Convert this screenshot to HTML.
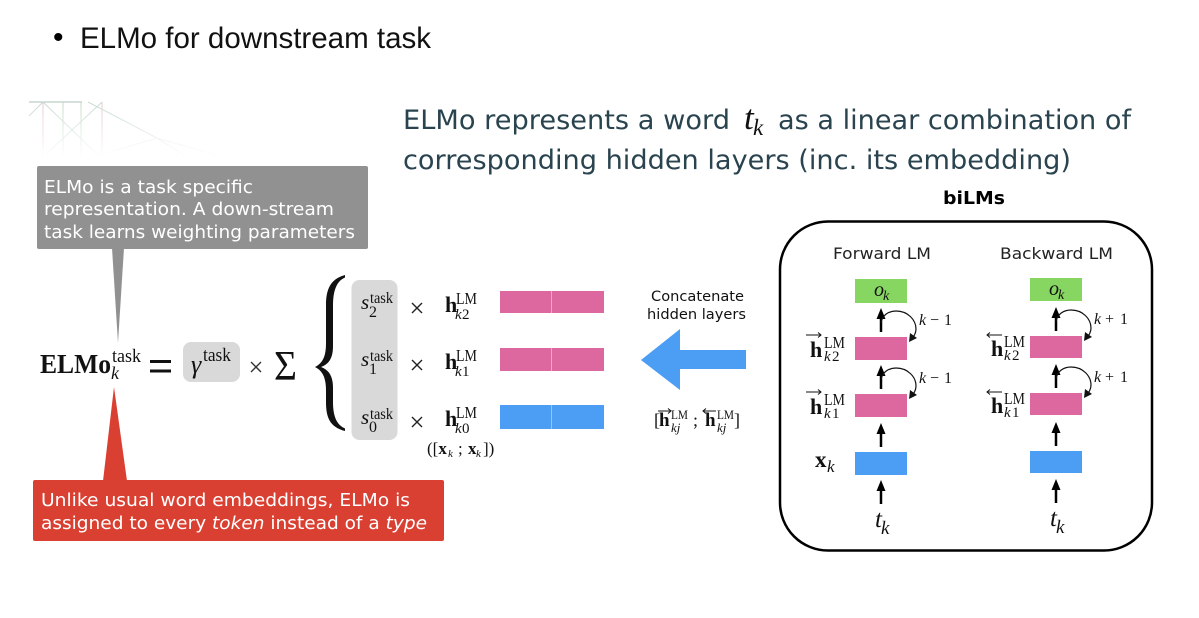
<!DOCTYPE html>
<html><head><meta charset="utf-8"><style>
html,body{margin:0;padding:0;background:#fff;width:1199px;height:618px;overflow:hidden}
svg{display:block}
.d{font-family:"DejaVu Sans",sans-serif}
.s{font-family:"Liberation Serif",serif;fill:#111}
.i{font-style:italic}.b{font-weight:bold}
</style></head><body>
<svg width="1199" height="618" viewBox="0 0 1199 618" xmlns="http://www.w3.org/2000/svg">
<defs>
<linearGradient id="f" gradientUnits="userSpaceOnUse" x1="0" y1="102" x2="0" y2="158"><stop offset="0" stop-color="#fff" stop-opacity="0"/><stop offset="1" stop-color="#fff"/></linearGradient>
<g id="up"><path d="M0 0V-16" stroke="#000" stroke-width="2.500" fill="none"/><path d="M0 -24L-4.500 -13H4.500Z" fill="#000"/></g>
<g id="loop"><path d="M0 -9C1 -17 8 -21 15 -21C27 -21 35 -12 35 -3C35 1 33 4 31 7" stroke="#111" stroke-width="1.2" fill="none"/><path d="M28 10L29 1L36 6Z" fill="#111"/></g>
</defs>
<text x="53" y="47" font-size="30" font-family="'Liberation Sans',sans-serif" fill="#000">•</text>
<text x="80" y="48" font-size="30" font-family="'Liberation Sans',sans-serif" fill="#111" textLength="351" lengthAdjust="spacingAndGlyphs">ELMo for downstream task</text>

<g fill="none" stroke-width="1">
<path d="M29 102H82" stroke="#a8c0b4"/>
<path d="M29 116L43 102L100 157M102 102L43 157" stroke="#c8dcd8"/>
<path d="M43 102V157M102 102V157" stroke="#ecc8c8"/>
<path d="M63 102V157M81 102V157" stroke="#c4dcc4"/>
<path d="M88 102L157 138L187 157" stroke="#c8dcd0"/>
<path d="M100 155L157 138L227 158" stroke="#d8e8e0"/>
<path d="M170 159H365" stroke="#f4f6f4"/>
</g>
<rect x="20" y="102" width="360" height="60" fill="url(#f)"/>

<text class="d" font-size="27" fill="#2a444f" x="403" y="129" textLength="327" lengthAdjust="spacingAndGlyphs">ELMo represents a word</text>
<text class="s i" font-size="35" fill="#222" x="744" y="129">t</text>
<text class="s i" font-size="23" x="753" y="135">k</text>
<text class="d" font-size="27" fill="#2a444f" x="778" y="129" textLength="353" lengthAdjust="spacingAndGlyphs">as a linear combination of</text>
<text class="d" font-size="27" fill="#2a444f" x="403" y="169" textLength="668" lengthAdjust="spacingAndGlyphs">corresponding hidden layers (inc. its embedding)</text>

<path d="M112 248H124L118 343Z" fill="#919191"/>
<rect x="37" y="166" width="331" height="83" rx="2" fill="#919191"/>
<g class="d" font-size="18" fill="#fff">
<text x="44" y="193" textLength="209" lengthAdjust="spacingAndGlyphs">ELMo is a task specific</text>
<text x="44" y="215" textLength="290" lengthAdjust="spacingAndGlyphs">representation. A down-stream</text>
<text x="44" y="238" textLength="311" lengthAdjust="spacingAndGlyphs">task learns weighting parameters</text>
</g>

<path d="M103 481H127L114 387Z" fill="#d94032"/>
<rect x="33" y="480" width="411" height="61" rx="2" fill="#d94032"/>
<g class="d" font-size="18" fill="#fff">
<text x="41" y="506" textLength="369" lengthAdjust="spacingAndGlyphs">Unlike usual word embeddings, ELMo is</text>
<text x="41" y="529" textLength="386" lengthAdjust="spacingAndGlyphs">assigned to every <tspan font-style="italic">token</tspan> instead of a <tspan font-style="italic">type</tspan></text>
</g>

<text class="s b" font-size="27" x="40" y="373" textLength="71" lengthAdjust="spacingAndGlyphs">ELMo</text>
<text class="s" font-size="19" x="112" y="362" textLength="29" lengthAdjust="spacingAndGlyphs">task</text>
<text class="s i" font-size="18" x="111" y="379">k</text>
<path d="M150 361.500H171M150 371H171" stroke="#111" stroke-width="3"/>
<rect x="183" y="342" width="57" height="40" rx="8" fill="#d9d9d9"/>
<text class="s i" font-size="26" x="191" y="373">γ</text>
<text class="s" font-size="19" x="203" y="361" textLength="28" lengthAdjust="spacingAndGlyphs">task</text>
<path d="M251 362L261 372M261 362L251 372" stroke="#333" stroke-width="1.400"/>
<text class="s" font-size="42" x="274" y="380" textLength="23" lengthAdjust="spacingAndGlyphs">Σ</text>
<path d="M345 275C330 279 326 290 326 305V343C326 356 323 363 315 367C323 371 326 378 326 391V402C326 418 330 427 345 431L345 428.500C337 425 333 417 333 402V388C333 376 329 370 321 367C329 364 333 358 333 346V305C333 290 337 281 345 277.500Z" fill="#111"/>

<rect x="351.500" y="280" width="46" height="160" rx="8" fill="#d9d9d9"/>
<g>
<text class="s i" font-size="21" x="361" y="309">s</text><text class="s" font-size="16" x="369" y="317">2</text><text class="s" font-size="16" x="370" y="303" textLength="23" lengthAdjust="spacingAndGlyphs">task</text>
<path d="M412 303L422 313M422 303L412 313" stroke="#222" stroke-width="1.400"/>
<text class="s b" font-size="22" x="445" y="312">h</text><text class="s" font-size="17" x="456" y="304" textLength="21" lengthAdjust="spacingAndGlyphs">LM</text><text class="s i" font-size="15" x="455" y="319">k</text><text class="s" font-size="15" x="462" y="319">2</text>
</g>
<g>
<text class="s i" font-size="21" x="361" y="366">s</text><text class="s" font-size="16" x="369" y="374">1</text><text class="s" font-size="16" x="370" y="361" textLength="23" lengthAdjust="spacingAndGlyphs">task</text>
<path d="M412 360L422 370M422 360L412 370" stroke="#222" stroke-width="1.400"/>
<text class="s b" font-size="22" x="445" y="369">h</text><text class="s" font-size="17" x="456" y="361" textLength="21" lengthAdjust="spacingAndGlyphs">LM</text><text class="s i" font-size="15" x="455" y="376">k</text><text class="s" font-size="15" x="462" y="376">1</text>
</g>
<g>
<text class="s i" font-size="21" x="361" y="424">s</text><text class="s" font-size="16" x="369" y="432">0</text><text class="s" font-size="16" x="370" y="419" textLength="23" lengthAdjust="spacingAndGlyphs">task</text>
<path d="M412 417L422 427M422 417L412 427" stroke="#222" stroke-width="1.400"/>
<text class="s b" font-size="22" x="445" y="426">h</text><text class="s" font-size="17" x="456" y="418" textLength="21" lengthAdjust="spacingAndGlyphs">LM</text><text class="s i" font-size="15" x="455" y="433">k</text><text class="s" font-size="15" x="462" y="433">0</text>
</g>
<text class="s" font-size="17" x="427" y="454">([<tspan font-weight="bold">x</tspan></text>
<text class="s i" font-size="11" x="448" y="457">k</text>
<text class="s" font-size="17" x="458" y="454">;</text>
<text class="s b" font-size="17" x="468" y="454">x</text>
<text class="s i" font-size="11" x="476" y="457">k</text>
<text class="s" font-size="17" x="483" y="454">])</text>

<rect x="500" y="291" width="104" height="22" fill="#dd68a0"/>
<rect x="500" y="348" width="104" height="23" fill="#dd68a0"/>
<rect x="500" y="405" width="104" height="24" fill="#4c9ef4"/>
<path d="M551.500 291V313M551.500 348V371" stroke="#eea9c8"/><path d="M551.500 405V429" stroke="#93c6f8"/>

<text class="d" font-size="14" fill="#111" x="651" y="301" textLength="93" lengthAdjust="spacingAndGlyphs">Concatenate</text>
<text class="d" font-size="14" fill="#111" x="647" y="319" textLength="99" lengthAdjust="spacingAndGlyphs">hidden layers</text>
<path d="M641 360L680 329V350H746V369H680V390Z" fill="#4c9ef4"/>
<text class="s" font-size="18" x="654" y="426">[</text>
<text class="s b" font-size="19" x="659" y="426">h</text>
<text class="s" font-size="13" x="671" y="419" textLength="17" lengthAdjust="spacingAndGlyphs">LM</text>
<text class="s i" font-size="13" x="671" y="432">kj</text>
<path d="M658 411H671M668 408.500L671 411L668 413.500" stroke="#111" fill="none"/>
<text class="s" font-size="18" x="693" y="426">;</text>
<text class="s b" font-size="19" x="705" y="426">h</text>
<text class="s" font-size="13" x="717" y="419" textLength="17" lengthAdjust="spacingAndGlyphs">LM</text>
<text class="s i" font-size="13" x="717" y="432">kj</text>
<path d="M703 411H716M706 408.500L703 411L706 413.500" stroke="#111" fill="none"/>
<text class="s" font-size="18" x="734" y="426">]</text>

<text class="d b" font-size="18" fill="#000" x="943" y="204" textLength="62" lengthAdjust="spacingAndGlyphs">biLMs</text>
<rect x="780" y="221.500" width="372" height="329" rx="48" fill="#fff" stroke="#000" stroke-width="2.500"/>
<text class="d" font-size="16" fill="#222" x="833" y="259" textLength="98" lengthAdjust="spacingAndGlyphs">Forward LM</text>
<text class="d" font-size="16" fill="#222" x="1000" y="259" textLength="113" lengthAdjust="spacingAndGlyphs">Backward LM</text>

<g>
<rect x="855" y="279" width="52" height="24" fill="#88d662"/>
<rect x="855" y="337" width="52" height="23" fill="#dd68a0"/>
<rect x="855" y="394" width="52" height="23" fill="#dd68a0"/>
<rect x="855" y="452" width="52" height="23" fill="#4c9ef4"/>
<text class="s i" font-size="20" x="874" y="296">o</text><text class="s i" font-size="14" x="883" y="300">k</text>
<use href="#up" x="881" y="332"/><use href="#up" x="881" y="389"/><use href="#up" x="881" y="447"/><use href="#up" x="881" y="504"/>
<use href="#loop" x="881" y="332"/><use href="#loop" x="881" y="389"/>
<text class="s i" font-size="16" x="919" y="325">k</text><text class="s" font-size="16" x="930" y="325">−</text><text class="s" font-size="16" x="944" y="325">1</text>
<text class="s i" font-size="16" x="919" y="383">k</text><text class="s" font-size="16" x="930" y="383">−</text><text class="s" font-size="16" x="944" y="383">1</text>
<text class="s b" font-size="22" x="810" y="357">h</text><text class="s" font-size="17" x="824" y="348" textLength="21" lengthAdjust="spacingAndGlyphs">LM</text><text class="s i" font-size="15" x="824" y="361">k</text><text class="s" font-size="15" x="832" y="361">2</text>
<path d="M806 335H821M818 332.500L821 335L818 337.500" stroke="#111" fill="none"/>
<text class="s b" font-size="22" x="810" y="414">h</text><text class="s" font-size="17" x="824" y="405" textLength="21" lengthAdjust="spacingAndGlyphs">LM</text><text class="s i" font-size="15" x="824" y="418">k</text><text class="s" font-size="15" x="832" y="418">1</text>
<path d="M806 392H821M818 389.500L821 392L818 394.500" stroke="#111" fill="none"/>
<text class="s b" font-size="23" x="815" y="467">x</text><text class="s i" font-size="17" x="827" y="472">k</text>
<text class="s i" font-size="25" x="875" y="527">t</text><text class="s i" font-size="19" x="881" y="534">k</text>
</g>

<g>
<rect x="1030" y="278" width="52" height="23" fill="#88d662"/>
<rect x="1030" y="336" width="52" height="22" fill="#dd68a0"/>
<rect x="1030" y="393" width="52" height="22" fill="#dd68a0"/>
<rect x="1030" y="451" width="52" height="22" fill="#4c9ef4"/>
<text class="s i" font-size="20" x="1049" y="295">o</text><text class="s i" font-size="14" x="1058" y="299">k</text>
<use href="#up" x="1056" y="331"/><use href="#up" x="1056" y="388"/><use href="#up" x="1056" y="446"/><use href="#up" x="1056" y="503"/>
<use href="#loop" x="1056" y="331"/><use href="#loop" x="1056" y="388"/>
<text class="s i" font-size="16" x="1094" y="324">k</text><text class="s" font-size="16" x="1105" y="324">+</text><text class="s" font-size="16" x="1120" y="324">1</text>
<text class="s i" font-size="16" x="1094" y="382">k</text><text class="s" font-size="16" x="1105" y="382">+</text><text class="s" font-size="16" x="1120" y="382">1</text>
<text class="s b" font-size="22" x="991" y="356">h</text><text class="s" font-size="17" x="1004" y="347" textLength="21" lengthAdjust="spacingAndGlyphs">LM</text><text class="s i" font-size="15" x="1004" y="360">k</text><text class="s" font-size="15" x="1012" y="360">2</text>
<path d="M987 335H1002M990 332.500L987 335L990 337.500" stroke="#111" fill="none"/>
<text class="s b" font-size="22" x="991" y="413">h</text><text class="s" font-size="17" x="1004" y="404" textLength="21" lengthAdjust="spacingAndGlyphs">LM</text><text class="s i" font-size="15" x="1004" y="417">k</text><text class="s" font-size="15" x="1012" y="417">1</text>
<path d="M987 392H1002M990 389.500L987 392L990 394.500" stroke="#111" fill="none"/>
<text class="s i" font-size="25" x="1050" y="526">t</text><text class="s i" font-size="19" x="1056" y="533">k</text>
</g>
</svg>
</body></html>
